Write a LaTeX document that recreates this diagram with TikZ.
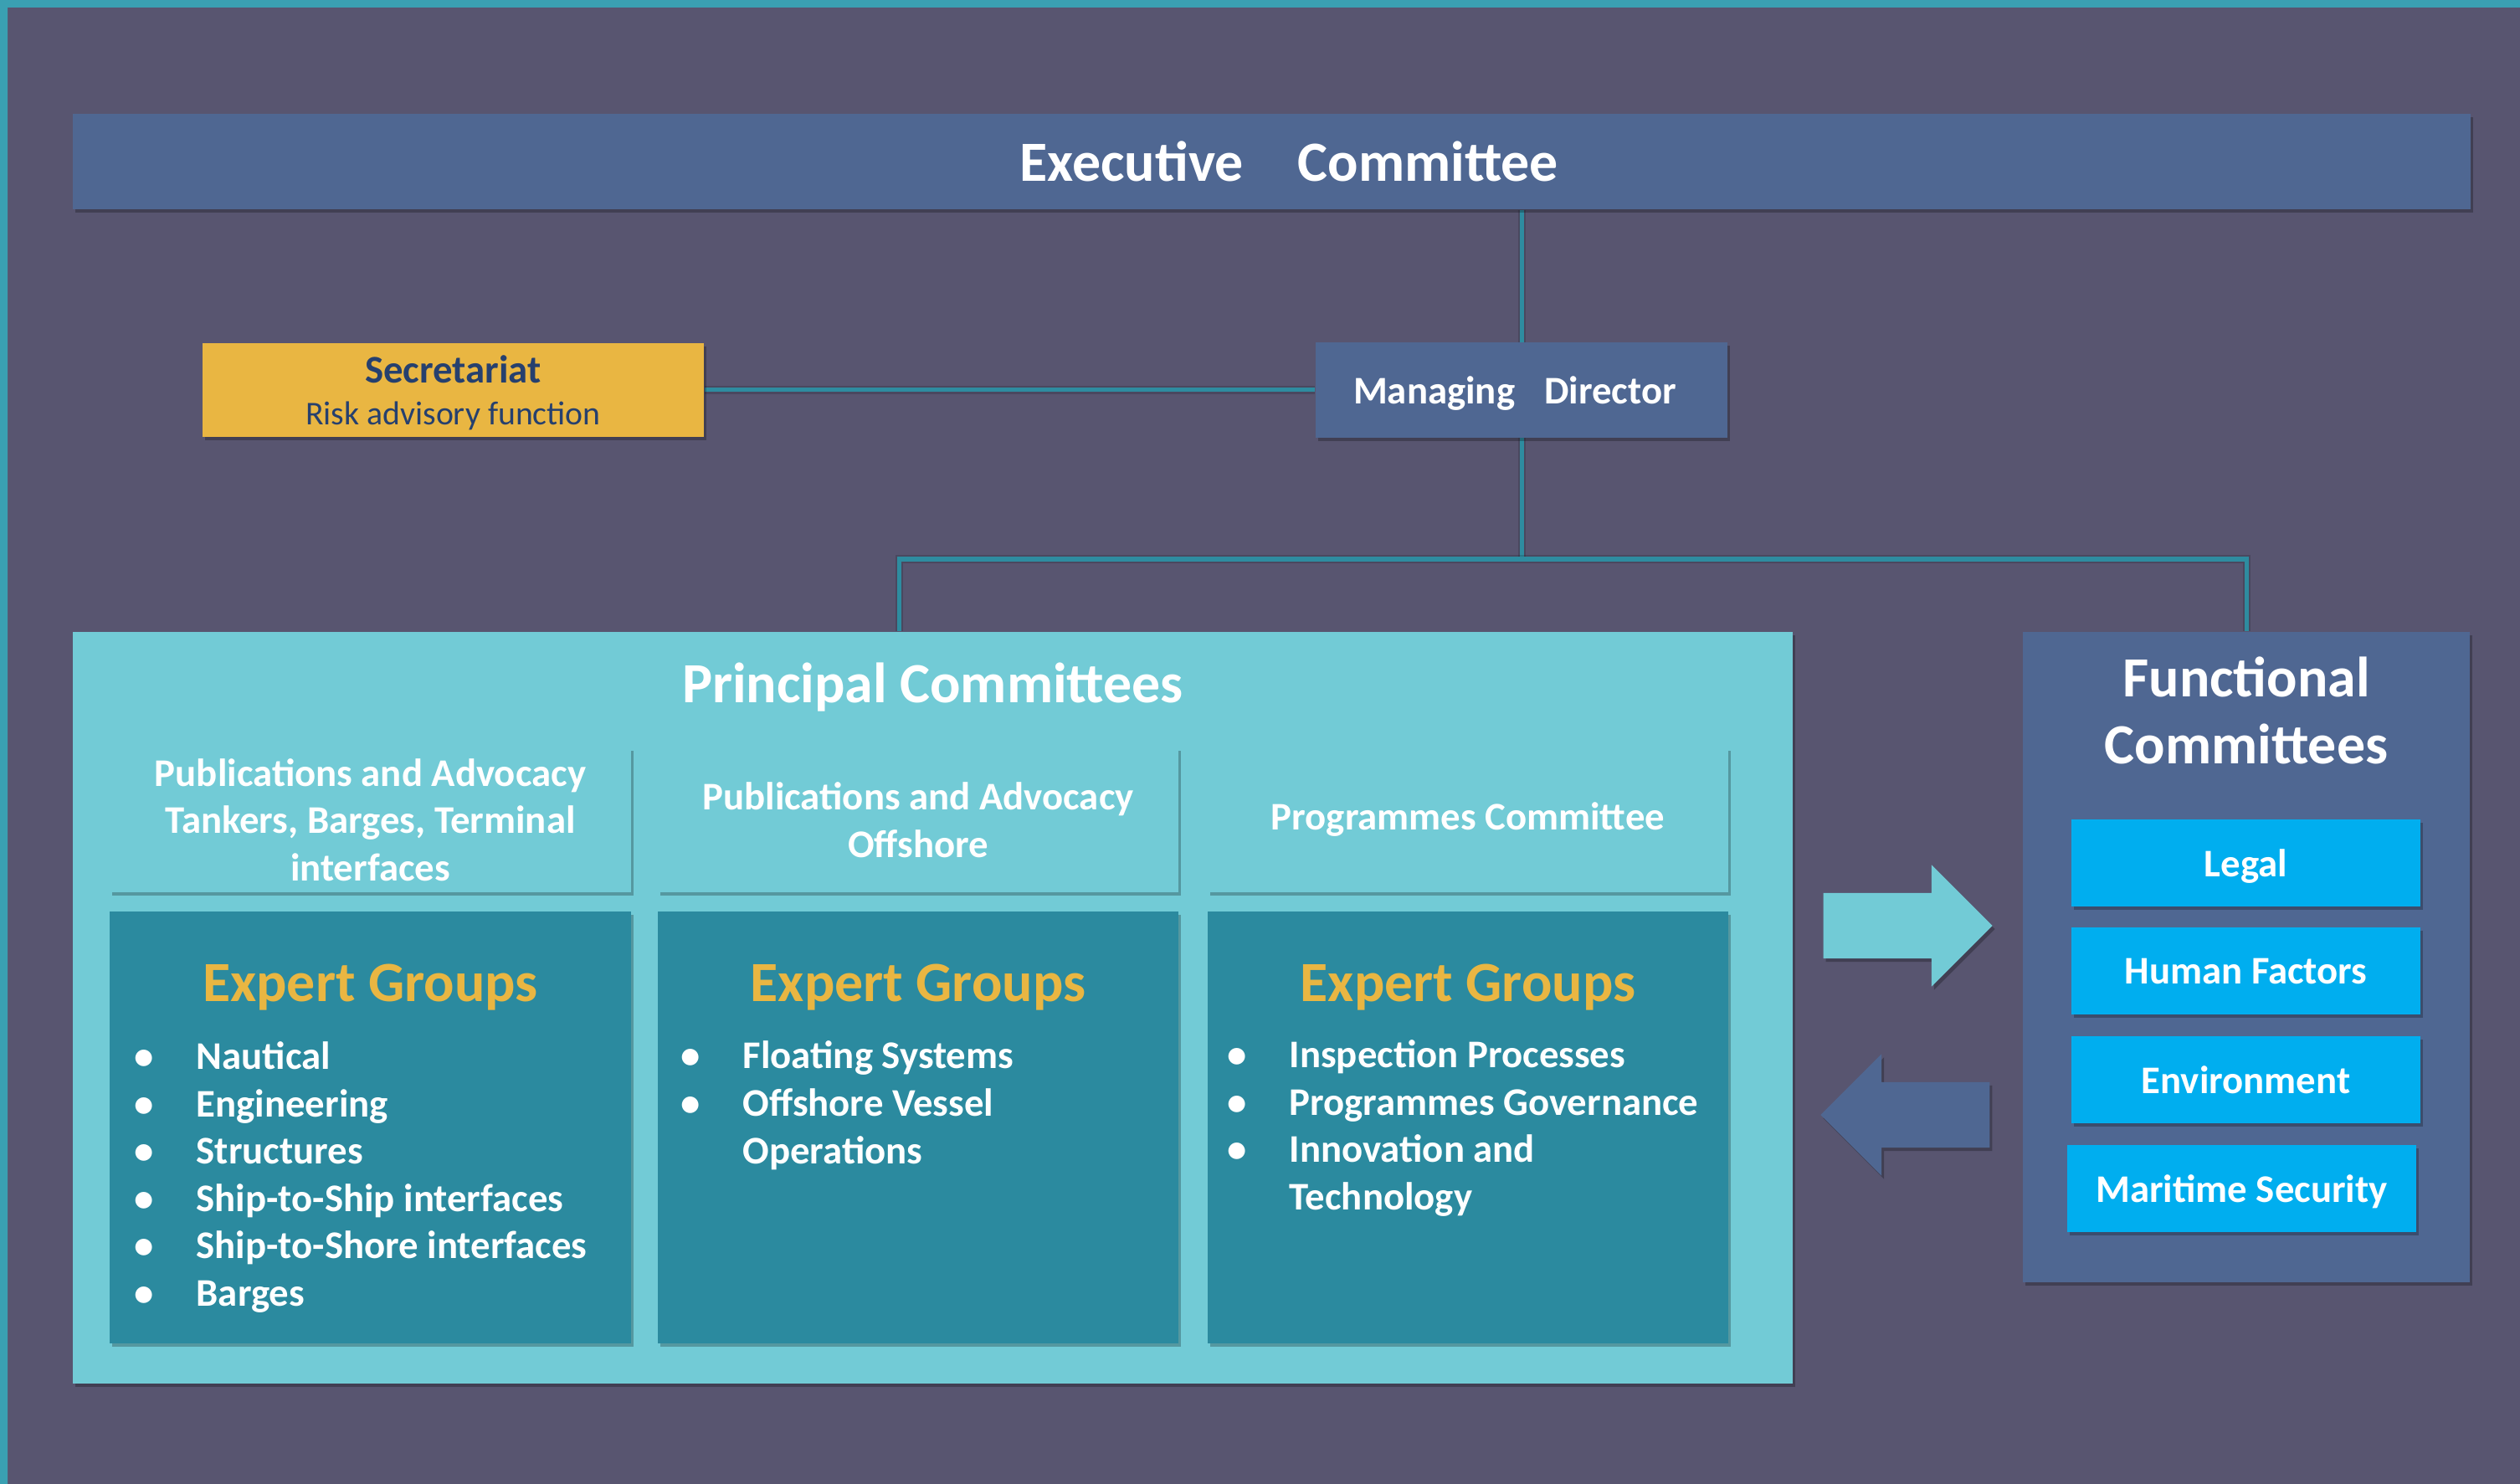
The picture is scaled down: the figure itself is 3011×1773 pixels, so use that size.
\documentclass[tikz,border=0pt]{standalone}
\usepackage{fontspec}
\setmainfont{Carlito}
\usetikzlibrary{positioning,shapes.arrows,shadows}

\definecolor{bgcol}{RGB}{88,85,112}
\definecolor{rimcol}{RGB}{58,160,178}
\definecolor{navy}{RGB}{79,103,146}
\definecolor{gold}{RGB}{233,182,66}
\definecolor{ink}{RGB}{38,64,110}
\definecolor{aqua}{RGB}{114,203,214}
\definecolor{deepteal}{RGB}{43,138,159}
\definecolor{sky}{RGB}{0,174,239}
\definecolor{wire}{RGB}{46,140,160}

\newcommand{\headfont}{\fontsize{19.3}{22.5}\selectfont\bfseries}
\newcommand{\bodyfont}{\fontsize{13.3}{16.1}\selectfont\bfseries}
\newcommand{\notefont}{\fontsize{11.3}{13.5}\selectfont}
\newcommand{\bul}{\llap{\makebox[0.74cm][l]{\textbullet}}}

\pgfdeclarelayer{back}
\pgfdeclarelayer{wires}
\pgfsetlayers{back,wires,main}

\tikzset{
  box/.style={inner sep=0pt, drop shadow={shadow xshift=0.03cm, shadow yshift=-0.04cm, opacity=0.25, fill=black}},
  oneline/.style={text=white, font=\bodyfont, text depth=0pt},
  link/.style={draw=wire, line width=0.05cm, preaction={draw=black, opacity=0.15, line width=0.09cm}},
  list/.style={text=white, font=\bodyfont, align=left, inner sep=0pt, anchor=base west},
  flow/.style={single arrow, inner xsep=0pt, inner ysep=0.385cm, minimum height=2.02cm,
    single arrow head extend=0.335cm, drop shadow={shadow xshift=0.03cm, shadow yshift=-0.04cm, opacity=0.25, fill=black}}
}

\begin{document}
\begin{tikzpicture}[x=0.01cm, y=-0.01cm]
  \useasboundingbox (0,0) rectangle (3011,1773);
  \begin{pgfonlayer}{back}
    \fill[bgcol] (0,0) rectangle (3011,1773);
    \fill[rimcol] (0,0) rectangle (3011,9) (0,0) rectangle (9,1773);
  \end{pgfonlayer}

  \node[box, fill=navy, minimum width=28.63cm, minimum height=1.14cm, text=white, font=\headfont, text depth=0pt]
    (exec) at (1519.5,193) {\hspace{0.42cm}Executive\hspace{0.65cm}Committee};
  \node[box, fill=navy, minimum width=4.92cm, minimum height=1.13cm, oneline]
    (md) at (1818,466) {\hspace{-0.16cm}Managing\hspace{0.35cm}Director};
  \node[box, fill=gold, minimum width=5.99cm, minimum height=1.11cm] (sec) at (541.5,466) {};
  \node[anchor=base, text=ink, font=\bodyfont, inner sep=0pt] (sectitle) at (541.5,458) {Secretariat};
  \node[anchor=base, text=ink, font=\notefont, inner sep=0pt] (secnote) at (541.5,508) {Risk advisory function};

  % principal committees
  \node[box, fill=aqua, minimum width=20.53cm, minimum height=8.98cm] (pc) at (1114.5,1204) {};
  \node[anchor=base, text=white, font=\headfont, inner sep=0pt] (pctitle) at (1114.5,839) {Principal Committees};
  \foreach \cx/\head [count=\k] in {442.5/{Publications and Advocacy\\Tankers, Barges, Terminal\\interfaces},
      1097/{Publications and Advocacy\\Offshore}, 1754/{Programmes Committee}} {
    \node[box, fill=aqua, minimum width=6.22cm, minimum height=1.73cm, text=white, font=\bodyfont, align=center]
      (pch\k) at (\cx,979.5) {\head};
    \node[box, fill=deepteal, minimum width=6.22cm, minimum height=5.16cm] (eg\k) at (\cx,1347) {};
    \node[anchor=base, text=gold, font=\headfont, inner sep=0pt] (egt\k) at (\cx,1196) {Expert Groups};
  }
  % lists sit on the baseline of their last line
  \node[list] (egl1) at (234,1560.5) {\bul Nautical\\\bul Engineering\\\bul Structures\\
    \bul Ship-to-Ship interfaces\\\bul Ship-to-Shore interfaces\\\bul Barges};
  \node[list] (egl2) at (887,1390) {\bul Floating Systems\\\bul Offshore Vessel\\Operations};
  \node[list] (egl3) at (1540,1445.5) {\bul Inspection Processes\\\bul Programmes Governance\\
    \bul Innovation and\\Technology};

  % functional committees
  \node[box, fill=navy, minimum width=5.34cm, minimum height=7.77cm] (fc) at (2684,1143.5) {};
  \node[anchor=base, text=white, font=\headfont, align=center, inner sep=0pt] (fctitle) at (2684,912) {Functional\\Committees};
  \foreach \cx/\cy/\name [count=\k] in {2683.5/1031/Legal, 2683.5/1160/Human Factors,
      2683.5/1290/Environment, 2678.5/1420/Maritime Security} {
    \node[box, fill=sky, minimum width=4.17cm, minimum height=1.04cm, oneline] (fcs\k) at (\cx,\cy) {\name};
  }

  \node[flow, fill=aqua] (tofc) at (2260,1106) {};
  \node[flow, fill=navy, shape border rotate=180] (frfc) at (2296,1332) {};

  \begin{pgfonlayer}{wires}
    \coordinate (bus) at (md.south |- 0,668);
    \draw[link] (exec.south -| md.north) -- (md.north);
    \draw[link] (sec.east) -- (md.west);
    \draw[link] (md.south) -- (bus);
    \draw[link] ([xshift=-0.395cm]pc.north) |- (bus) -| (fc.north);
  \end{pgfonlayer}
\end{tikzpicture}
\end{document}
